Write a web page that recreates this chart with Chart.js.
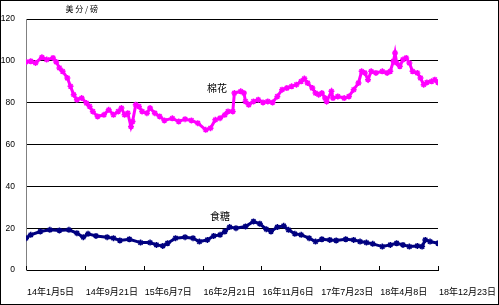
<!DOCTYPE html>
<html>
<head>
<meta charset="utf-8">
<script src="https://cdn.jsdelivr.net/npm/chart.js@4/dist/chart.umd.min.js"></script>
<style>
  html, body { margin: 0; padding: 0; background: #fff; }
  #wrap { position: absolute; left: 0; top: 0; width: 497px; height: 303px; border: 1px solid #000; background: #fff; }
  canvas { display: block; }
</style>
</head>
<body>
<div id="wrap"><canvas id="c" width="497" height="303"></canvas></div>
<script>
// Week index (0 = 14年1月5日), one tick every 37 weeks
const xTickLabels = ['14年1月5日','14年9月21日','15年6月7日','16年2月21日','16年11月6日','17年7月23日','18年4月8日','18年12月23日'];
const yTicks = [0, 20, 40, 60, 80, 100, 120];

const cottonWeeks = [0,3,6,10,13,17,19,21,23,26,28,30,32,35,38,40,42,45,49,52,55,58,60,62,64,66,67,69,71,73,76,78,81,84,87,92,96,100,104,108,113,116,119,122,125,127,130,131,135,137,138,140,143,146,149,152,155,158,161,164,167,170,173,175,177,180,182,184,186,188,189,192,193,196,200,203,206,209,211,213,215,217,220,224,227,229,231,232,233,235,237,239,241,243,246,248,250,252,255,257,259];
const cottonValues = [99.5,99.8,99,101.7,100.6,101.4,99.5,96.6,95,91.8,87.8,83.8,81.4,82.2,79.8,78.2,75.8,73.4,74.2,76.6,74.2,75.8,77.4,74.2,75,68.5,71,79,78.2,75.8,75,77.4,75,73.4,71.5,72.5,71,72.1,71.5,70.2,67,67.8,71.8,72.6,74.2,75.8,75.8,84.6,85.4,84.6,80.6,79,80.6,81.4,80.1,80.6,80.1,83,86.2,87,87.8,88.6,90.2,91.5,89.4,87,84.6,83.8,84.6,82.2,80.6,85.4,82.2,83,82.2,83,86.2,89.4,95,94.2,91,95,94.2,95,94.2,95,99.8,103.8,99,97.4,100.6,101.4,99,95,94.2,91.8,88.6,89.7,90.2,91,89.7];

const sugarWeeks = [0,3,9,15,21,27,32,36,39,44,51,55,59,65,72,78,82,86,89,94,100,105,109,114,118,122,125,128,132,138,143,147,151,154,158,162,165,169,173,178,182,186,191,195,201,206,210,214,218,224,229,233,237,241,246,249,251,254,259];
const sugarValues = [15.2,16.8,18.4,19.2,18.9,19.2,17.6,15.7,17.3,16.3,15.7,15.2,14.1,14.7,13.1,13.1,12,11.5,12.8,15.2,15.7,15.2,13.6,14.4,16.3,16.8,18.4,20.5,20,20.8,23.2,22.1,19.5,18.4,20.5,21.1,19.2,17.3,16.8,15.2,13.6,14.7,14.4,14.1,14.7,14.4,13.6,13.1,12.5,11.2,12,12.8,12,11.2,11.5,11.2,14.4,13.6,12.8];

const seriesNames = ['棉花', '食糖'];
const unitLabel = '美 分 / 磅';

const toXY = (ws, vs) => ws.map((w, i) => ({ x: w, y: vs[i] }));

const FONT = "'Liberation Sans', 'Noto Sans CJK SC', sans-serif";

const extras = {
  id: 'extras',
  afterDraw(chart) {
    const { ctx, chartArea, scales } = chart;
    const x = scales.x, y = scales.y;
    ctx.save();
    // inward tick marks on x axis
    ctx.strokeStyle = '#000';
    ctx.lineWidth = 1;
    x.ticks.forEach((t) => {
      const px = Math.round(x.getPixelForValue(t.value)) + 0.5;
      ctx.beginPath();
      ctx.moveTo(px, chartArea.bottom);
      ctx.lineTo(px, chartArea.bottom - 4);
      ctx.stroke();
    });
    // texts
    ctx.fillStyle = '#000';
    ctx.textBaseline = 'middle';
    ctx.textAlign = 'center';
    ctx.font = "8px 'Noto Sans CJK SC', sans-serif";
    ctx.fillText(unitLabel, x.getPixelForValue(35), 8);
    ctx.font = "10px 'Noto Sans CJK SC', sans-serif";
    ctx.fillText(seriesNames[0], x.getPixelForValue(120), y.getPixelForValue(86.7));
    ctx.fillText(seriesNames[1], x.getPixelForValue(122), y.getPixelForValue(25.5));
    ctx.restore();
  }
};

new Chart(document.getElementById('c'), {
  type: 'line',
  data: {
    datasets: [
      {
        label: seriesNames[0],
        data: toXY(cottonWeeks, cottonValues),
        borderColor: '#FF00FF',
        backgroundColor: '#FF00FF',
        borderWidth: 3,
        pointStyle: 'star',
        pointRadius: 3,
        pointBorderWidth: 1.5,
        tension: 0
      },
      {
        label: seriesNames[1],
        data: toXY(sugarWeeks, sugarValues),
        borderColor: '#000080',
        backgroundColor: '#000080',
        borderWidth: 3,
        pointStyle: 'star',
        pointRadius: 3,
        pointBorderWidth: 1.5,
        tension: 0
      }
    ]
  },
  options: {
    responsive: false,
    animation: false,
    events: [],
    layout: { padding: { left: 0, top: 18, right: 60, bottom: 0 } },
    plugins: { legend: { display: false }, tooltip: { enabled: false } },
    scales: {
      x: {
        type: 'linear',
        min: 0,
        max: 259,
        afterBuildTicks: (s) => { s.ticks = xTickLabels.map((_, i) => ({ value: i * 37 })); },
        afterFit: (s) => { s.height = 34; s.paddingLeft = 0; s.paddingRight = 0; },
        grid: { display: true, drawOnChartArea: false, drawTicks: false },
        border: { display: true, color: '#000', width: 1 },
        ticks: {
          align: 'start',
          labelOffset: 1,
          padding: 17,
          autoSkip: false,
          maxRotation: 0,
          color: '#000',
          font: { family: FONT, size: 9 },
          callback: (v) => xTickLabels[Math.round(v / 37)]
        }
      },
      y: {
        min: 0,
        max: 120,
        afterBuildTicks: (s) => { s.ticks = yTicks.map((v) => ({ value: v })); },
        afterFit: (s) => { s.width = 25; s.paddingTop = 0; s.paddingBottom = 0; },
        grid: { color: '#000', lineWidth: 1, drawTicks: false },
        border: { display: true, color: '#808080', width: 1 },
        ticks: {
          padding: 11,
          color: '#000',
          font: { family: FONT, size: 8.5 }
        }
      }
    }
  },
  plugins: [extras]
});
</script>
</body>
</html>
